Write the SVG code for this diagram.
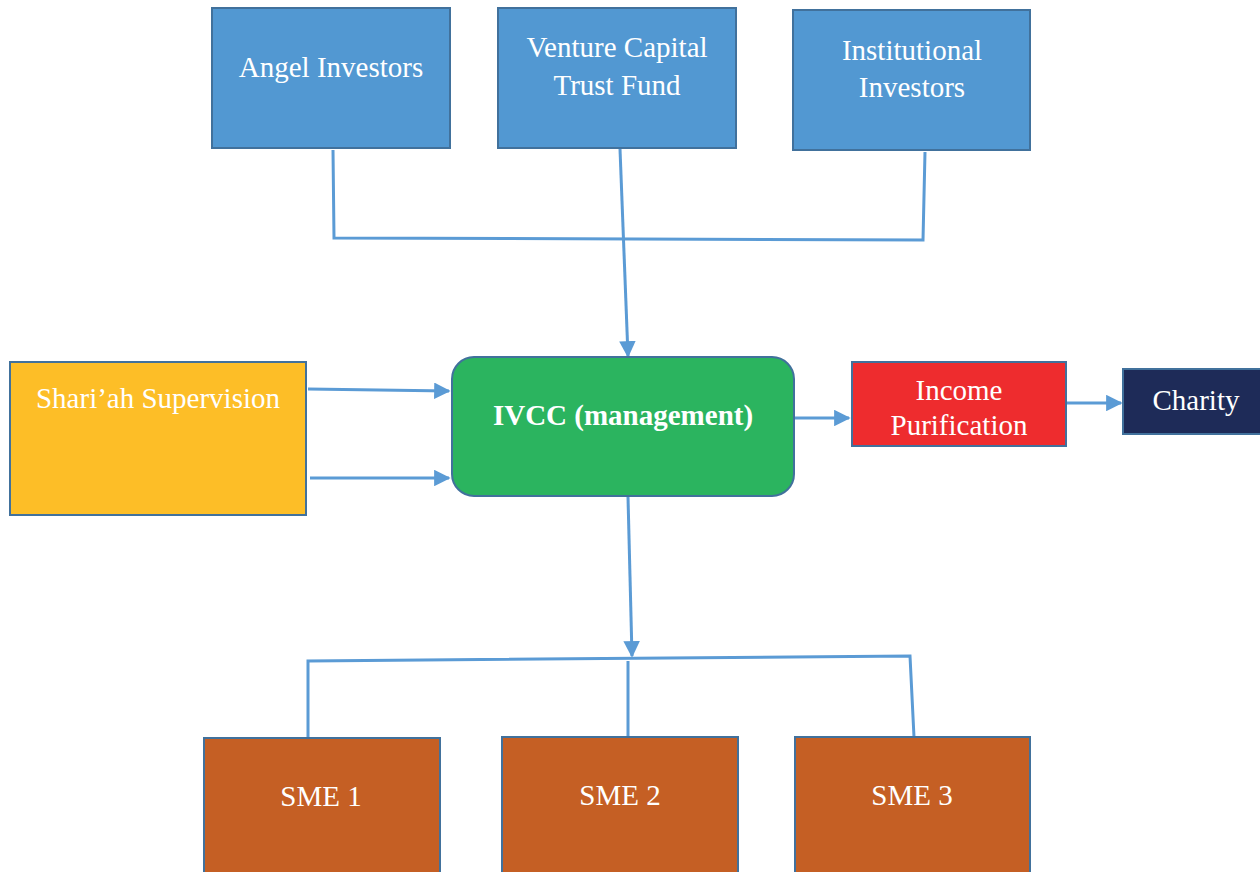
<svg xmlns="http://www.w3.org/2000/svg" width="1260" height="872" viewBox="0 0 1260 872">
<defs>
<style>
.box{stroke:#41719c;stroke-width:2}
.blue{fill:#5298d2}
.t{font-family:'Liberation Serif','Times New Roman',serif;font-size:29px;fill:#fff;text-anchor:middle}
.b{font-weight:bold}
.c{fill:none;stroke:#5b9bd5;stroke-width:3}
</style>
<marker id="ah" viewBox="0 0 10 10" refX="9" refY="5" markerWidth="5.5" markerHeight="5.5" orient="auto" markerUnits="strokeWidth"><path d="M0,0L10,5L0,10z" fill="#5b9bd5"/></marker>
</defs>
<rect width="1260" height="872" fill="#fff"/>
<g id="connectors">
<polyline class="c" points="333,150 334,238 923,240 925,152"/>
<line class="c" x1="620" y1="149" x2="628" y2="356" marker-end="url(#ah)"/>
<line class="c" x1="308" y1="389" x2="449" y2="391" marker-end="url(#ah)"/>
<line class="c" x1="310" y1="478" x2="449" y2="478" marker-end="url(#ah)"/>
<line class="c" x1="795" y1="418" x2="849" y2="418" marker-end="url(#ah)"/>
<line class="c" x1="1067" y1="403" x2="1121" y2="403" marker-end="url(#ah)"/>
<line class="c" x1="628" y1="497" x2="632" y2="656" marker-end="url(#ah)"/>
<polyline class="c" points="308,738 308,661 910,656 914,737"/>
<line class="c" x1="628" y1="661" x2="628" y2="737"/>
</g>
<g id="angel"><rect class="box blue" x="212" y="8" width="238" height="140"/><text class="t" x="331" y="77">Angel Investors</text></g>
<g id="vc"><rect class="box blue" x="498" y="8" width="238" height="140"/><text class="t" x="617" y="57">Venture Capital</text><text class="t" x="617" y="95">Trust Fund</text></g>
<g id="inst"><rect class="box blue" x="793" y="10" width="237" height="140"/><text class="t" x="912" y="60">Institutional</text><text class="t" x="912" y="97">Investors</text></g>
<g id="shariah"><rect class="box" fill="#fdbe27" x="10" y="362" width="296" height="153"/><text class="t" x="158" y="408">Shari’ah Supervision</text></g>
<g id="ivcc"><rect class="box" fill="#2bb45f" x="452" y="357" width="342" height="139" rx="22"/><text class="t b" x="623" y="425">IVCC (management)</text></g>
<g id="income"><rect class="box" fill="#ee2c2e" x="852" y="362" width="214" height="84"/><text class="t" x="959" y="400">Income</text><text class="t" x="959" y="435">Purification</text></g>
<g id="charity"><rect class="box" fill="#1e2b58" x="1123" y="369" width="140" height="65"/><text class="t" x="1196" y="410">Charity</text></g>
<g id="sme1"><rect class="box" fill="#c55f24" x="204" y="738" width="236" height="136"/><text class="t" x="321" y="806">SME 1</text></g>
<g id="sme2"><rect class="box" fill="#c55f24" x="502" y="737" width="236" height="137"/><text class="t" x="620" y="805">SME 2</text></g>
<g id="sme3"><rect class="box" fill="#c55f24" x="795" y="737" width="235" height="137"/><text class="t" x="912" y="805">SME 3</text></g>
</svg>
